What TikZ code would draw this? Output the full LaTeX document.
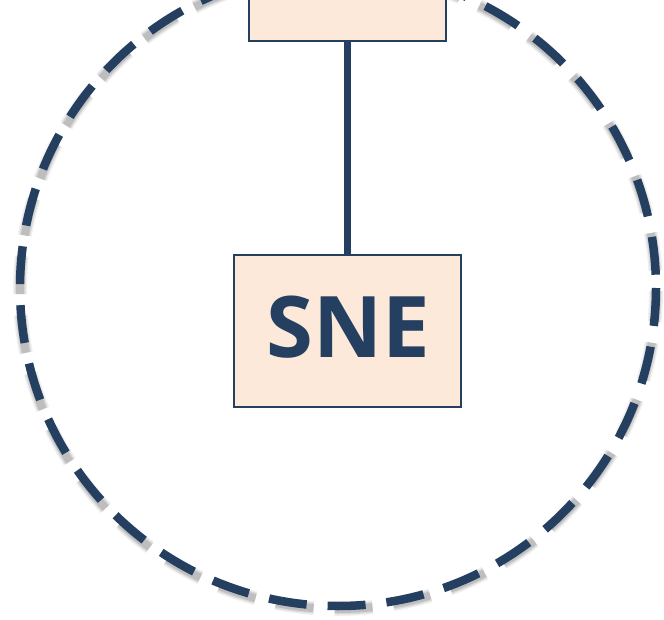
\documentclass[tikz,border=0pt]{standalone}
\usepackage{fontspec}
\setmainfont{Open Sans}
\definecolor{snedark}{HTML}{243F60}
\definecolor{snefill}{HTML}{FDE9D9}
\begin{document}
\begin{tikzpicture}[x=1pt,y=-1pt,
  box/.style={draw=snedark,fill=snefill,line width=1.2pt,inner sep=0pt},
  link/.style={draw=snedark,line width=7pt}]
\useasboundingbox (0,0) rectangle (664,620);
\clip (0,0) rectangle (664,620);
% ring with soft shadow
\foreach \w/\o in {14/0.12,11/0.2,8/0.3}
  \draw[black!50,opacity=\o,line width=\w pt,dash pattern=on 38pt off 21pt,dash phase=7pt] (338,291) circle (318);
\draw[snedark,line width=8.5pt,dash pattern=on 38pt off 21pt] (338,288) circle (318);
\node[box,minimum width=197pt,minimum height=80pt] (top) at (347.5,1) {};
\node[box,minimum width=227pt,minimum height=152pt] (sne) at (347.5,331) {};
\node[text=snedark,font=\fontsize{85}{85}\selectfont\bfseries,anchor=base] (label) at (348,357) {SNE};
\draw[link] (top) -- (sne);
\end{tikzpicture}
\end{document}
